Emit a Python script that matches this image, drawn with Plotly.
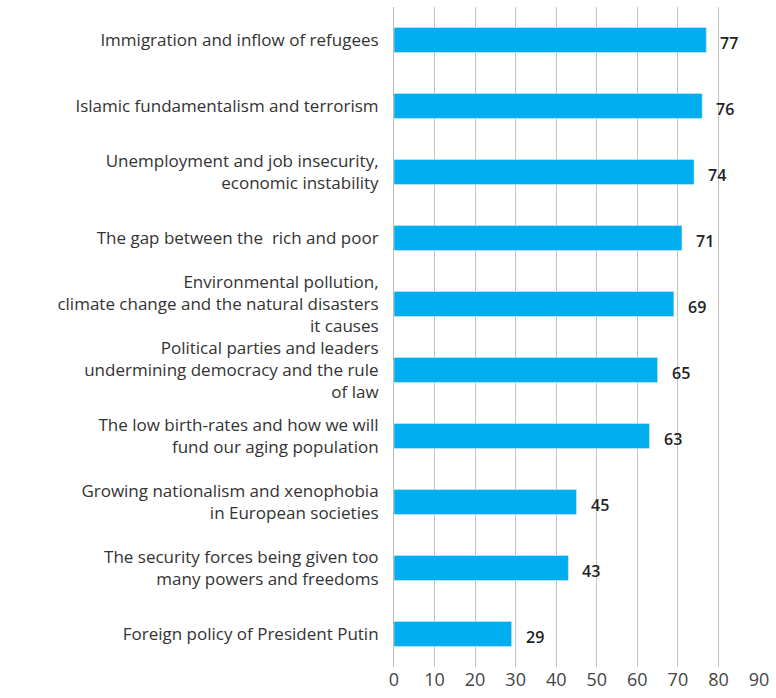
import plotly.graph_objects as go

categories = [
    "Immigration and inflow of refugees",
    "Islamic fundamentalism and terrorism",
    "Unemployment and job insecurity,<br>economic instability",
    "The gap between the  rich and poor",
    "Environmental pollution,<br>climate change and the natural disasters<br>it causes",
    "Political parties and leaders<br>undermining democracy and the rule<br>of law",
    "The low birth-rates and how we will<br>fund our aging population",
    "Growing nationalism and xenophobia<br>in European societies",
    "The security forces being given too<br>many powers and freedoms",
    "Foreign policy of President Putin",
]
values = [77, 76, 74, 71, 69, 65, 63, 45, 43, 29]
x_ticks = [0, 10, 20, 30, 40, 50, 60, 70, 80, 90]

fig = go.Figure()
fig.add_trace(go.Bar(
    y=categories,
    x=values,
    orientation="h",
    marker=dict(color="#00AEEF"),
))

# value labels, a bit away from the bar end
for cat, v in zip(categories, values):
    fig.add_annotation(
        x=v, y=cat, text=str(v),
        xanchor="left", showarrow=False,
        xshift=12, yshift=-3,
        font=dict(size=16, color="#222222", family="Open Sans", weight=600),
    )

fig.update_layout(
    width=776,
    height=698,
    margin=dict(l=394, r=14, t=7, b=27),
    plot_bgcolor="white",
    paper_bgcolor="white",
    font=dict(family="Open Sans", size=17, color="#333333"),
    bargap=0.62,
    showlegend=False,
)
fig.update_yaxes(
    autorange="reversed",
    showline=True,
    linecolor="#bbbbbb",
    linewidth=1,
    ticks="",
    showgrid=False,
    ticklabelstandoff=11,
)
fig.update_xaxes(
    range=[0, 90],
    tickvals=x_ticks,
    showgrid=True,
    gridcolor="#c4c4c4",
    gridwidth=1,
    zeroline=False,
    showline=False,
    tickfont=dict(size=18, color="#444444"),
    ticks="",
)

fig.write_html("out.html", config={"displayModeBar": False},
               post_script="document.body.style.margin='0';")
